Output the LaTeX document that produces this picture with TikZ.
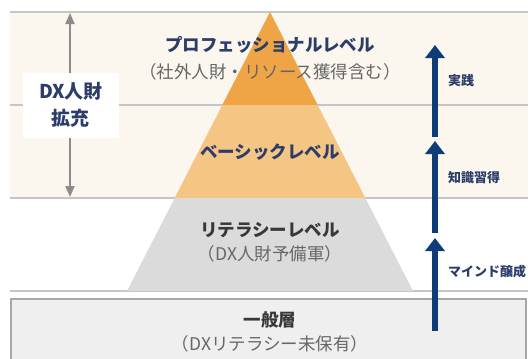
\documentclass[tikz,border=0pt]{standalone}
\usepackage{fontspec}
\setmainfont{Noto Sans CJK JP}
\usetikzlibrary{arrows.meta}
\definecolor{cream}{HTML}{FBF6EE}
\definecolor{sepgray}{HTML}{C6C6C6}
\definecolor{orangeA}{HTML}{EFA546}
\definecolor{orangeB}{HTML}{F5C583}
\definecolor{pyrgray}{HTML}{DBDBDB}
\definecolor{boxgray}{HTML}{EFEFEF}
\definecolor{boxline}{HTML}{A8A8A8}
\definecolor{navytext}{HTML}{2C3D6B}
\definecolor{darktext}{HTML}{383838}
\definecolor{subtext}{HTML}{676767}
\definecolor{navyarrow}{HTML}{0E3C78}
\definecolor{leftarrow}{HTML}{8C8C8C}
\tikzset{
  sepline/.style={draw=sepgray, line width=1.5pt},
  title/.style={font=\fontsize{17.5}{20}\selectfont\bfseries, inner sep=0pt},
  subtitle/.style={font=\fontsize{17.5}{20}\selectfont, text=subtext, inner sep=0pt},
  steplabel/.style={font=\fontsize{13}{15}\selectfont\bfseries, text=navytext, anchor=west, inner sep=0pt},
  uparrow/.style={draw=navyarrow, line width=6pt, -{Triangle[width=19pt,length=13pt]}},
  sidearrow/.style={draw=leftarrow, line width=2pt, {Triangle[width=9pt,length=11pt]}-{Triangle[width=9pt,length=11pt]}}
}
\begin{document}
\begin{tikzpicture}[x=1pt,y=-1pt]
\useasboundingbox (0,0) rectangle (531,359);
\clip (0,0) rectangle (531,359);
% bands
\fill[cream] (10,12) rectangle (528,198);
\draw[sepline] (10,12) -- (528,12);
\draw[sepline] (10,105) -- (528,105);
\draw[sepline] (10,198) -- (528,198);
\draw[sepline] (10,291) -- (528,291);
% bottom box
\draw[fill=boxgray, draw=boxline, line width=2pt] (11,299) rectangle (526,380);
% pyramid
\fill[orangeA] (270,12) -- (317.7,105) -- (222.3,105) -- cycle;
\fill[orangeB] (222.3,105) -- (317.7,105) -- (365.3,198) -- (174.7,198) -- cycle;
\fill[pyrgray] (174.7,198) -- (365.3,198) -- (413,291) -- (127,291) -- cycle;
% texts
\node[title, text=navytext] (pro) at (270,45) {プロフェッショナルレベル};
\node[subtitle] (prosub) at (270,72) {（社外人財・リソース獲得含む）};
\node[title, text=navytext] (basic) at (270,152) {ベーシックレベル};
\node[title, text=darktext] (lit) at (270,230) {リテラシーレベル};
\node[subtitle] (litsub) at (270,254) {（DX人財予備軍）};
\node[title, text=darktext] (gen) at (270,320) {一般層};
\node[subtitle] (gensub) at (270,344) {（DXリテラシー未保有）};
% left arrow and box
\coordinate (ltop) at (70,13);
\coordinate (lbot) at (70,197);
\draw[sidearrow] (ltop) -- (lbot);
\node[fill=white, minimum width=96pt, minimum height=65pt, align=center,
      font=\fontsize{19}{27}\selectfont\bfseries, text=navytext] (dx) at (71,105) {DX人財\\拡充};
% right arrows
\coordinate (a1s) at (435,137);
\coordinate (a1e) at (435,45);
\coordinate (a2s) at (435,233);
\coordinate (a2e) at (435,141);
\coordinate (a3s) at (435,331);
\coordinate (a3e) at (435,238);
\draw[uparrow] (a1s) -- (a1e);
\draw[uparrow] (a2s) -- (a2e);
\draw[uparrow] (a3s) -- (a3e);
\node[steplabel] (l1) at (448,81) {実践};
\node[steplabel] (l2) at (448,178) {知識習得};
\node[steplabel] (l3) at (448,272) {マインド醸成};
\end{tikzpicture}
\end{document}
